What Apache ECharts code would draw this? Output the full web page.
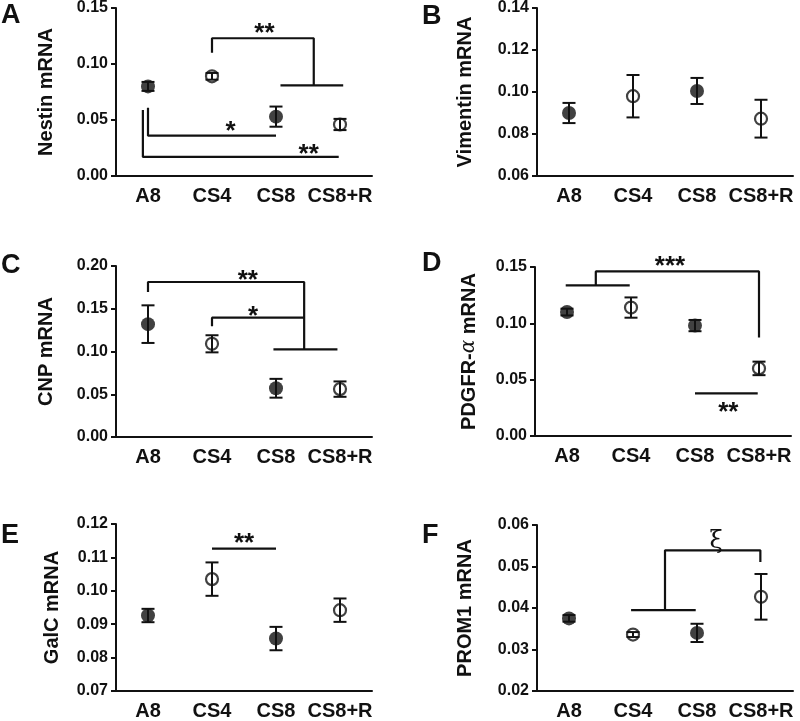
<!DOCTYPE html>
<html>
<head>
<meta charset="utf-8">
<script src="https://cdn.jsdelivr.net/npm/echarts@6/dist/echarts.min.js"></script>
<style>
  html, body { margin: 0; padding: 0; background: #fff; }
  #chart { width: 800px; height: 721px; }
</style>
</head>
<body>
<div id="chart"></div>
<script>
// six qPCR panels, mean ± SEM per culture condition, with significance brackets
var CATEGORIES = ["A8", "CS4", "CS8", "CS8+R"];
var FILLED = [true, false, true, false];

var NESTIN_MEAN = [0.080, 0.089, 0.053, 0.046];
var NESTIN_SEM = [0.004, 0.003, 0.009, 0.005];
var VIMENTIN_MEAN = [0.090, 0.098, 0.1005, 0.0873];
var VIMENTIN_SEM = [0.0048, 0.0101, 0.0062, 0.009];
var CNP_MEAN = [0.132, 0.109, 0.057, 0.056];
var CNP_SEM = [0.022, 0.010, 0.011, 0.009];
var PDGFRA_MEAN = [0.110, 0.114, 0.098, 0.060];
var PDGFRA_SEM = [0.003, 0.009, 0.005, 0.006];
var GALC_MEAN = [0.0926, 0.1035, 0.0857, 0.0942];
var GALC_SEM = [0.002, 0.005, 0.0035, 0.0035];
var PROM1_MEAN = [0.0375, 0.0336, 0.034, 0.0427];
var PROM1_SEM = [0.0008, 0.0006, 0.0022, 0.0055];

// brackets: polylines in (category index, value) space
var NESTIN_BRACKETS = [
  [[1, 0.110], [1, 0.123], [2.59, 0.123], [2.59, 0.081]],
  [[2.07, 0.081], [3.05, 0.081]],
  [[0, 0.061], [0, 0.036], [2.0, 0.036]],
  [[-0.08, 0.059], [-0.08, 0.017], [2.98, 0.017]]
];
var NESTIN_MARKS = [[1.82, 0.133, "**"], [1.29, 0.046, "*"], [2.51, 0.025, "**"]];
var CNP_BRACKETS = [
  [[0, 0.1696], [0, 0.1813], [2.44, 0.1813], [2.44, 0.1026]],
  [[1.96, 0.1026], [2.96, 0.1026]],
  [[1, 0.1295], [1, 0.1396], [2.44, 0.1396]]
];
var CNP_MARKS = [[1.56, 0.191, "**"], [1.64, 0.149, "*"]];
var PDGFRA_BRACKETS = [
  [[-0.02, 0.1337], [0.98, 0.1337]],
  [[0.45, 0.1337], [0.45, 0.1461], [3.0, 0.1461], [3.0, 0.0874]],
  [[2.0, 0.0378], [2.98, 0.0378]]
];
var PDGFRA_MARKS = [[1.61, 0.1565, "***"], [2.52, 0.0266, "**"]];
var GALC_BRACKETS = [[[1, 0.1126], [2, 0.1126]]];
var GALC_MARKS = [[1.5, 0.1162, "**"]];
var PROM1_BRACKETS = [
  [[0.97, 0.0395], [1.98, 0.0395]],
  [[1.5, 0.0395], [1.5, 0.0539], [2.99, 0.0539], [2.99, 0.0511]]
];
var PROM1_MARKS = [[2.3, 0.056, "ξ"]];

var INK = "#111";
var FONT = "'Liberation Sans', Arial, sans-serif";

var PANELS = [
  { letter: "A", name: "Nestin mRNA", mean: NESTIN_MEAN, sem: NESTIN_SEM, min: 0, max: 0.15, step: 0.05,
    grid: { left: 116, top: 6, width: 256, height: 170 }, gap: 60, lines: NESTIN_BRACKETS, marks: NESTIN_MARKS,
    lx: 1, ly: 2 },
  { letter: "B", name: "Vimentin mRNA", mean: VIMENTIN_MEAN, sem: VIMENTIN_SEM, min: 0.06, max: 0.14, step: 0.02,
    grid: { left: 537, top: 7, width: 256, height: 169 }, gap: 62, lines: [], marks: [],
    lx: 422, ly: 3 },
  { letter: "C", name: "CNP mRNA", mean: CNP_MEAN, sem: CNP_SEM, min: 0, max: 0.20, step: 0.05,
    grid: { left: 116, top: 266, width: 256, height: 171 }, gap: 60, lines: CNP_BRACKETS, marks: CNP_MARKS,
    lx: 1, ly: 252 },
  { letter: "D", name: "PDGFR-{a|α} mRNA", mean: PDGFRA_MEAN, sem: PDGFRA_SEM, min: 0, max: 0.15, step: 0.05,
    grid: { left: 535, top: 267, width: 256, height: 169 }, gap: 56, lines: PDGFRA_BRACKETS, marks: PDGFRA_MARKS,
    lx: 422, ly: 250 },
  { letter: "E", name: "GalC mRNA", mean: GALC_MEAN, sem: GALC_SEM, min: 0.07, max: 0.12, step: 0.01,
    grid: { left: 116, top: 524, width: 256, height: 169 }, gap: 54, lines: GALC_BRACKETS, marks: GALC_MARKS,
    lx: 1, ly: 522 },
  { letter: "F", name: "PROM1 mRNA", mean: PROM1_MEAN, sem: PROM1_SEM, min: 0.02, max: 0.06, step: 0.01,
    grid: { left: 537, top: 525, width: 256, height: 169 }, gap: 62, lines: PROM1_BRACKETS, marks: PROM1_MARKS,
    lx: 422, ly: 522 }
];

var grids = [], xAxes = [], yAxes = [], series = [], graphics = [];

PANELS.forEach(function (p, i) {
  grids.push(p.grid);
  // visible category axis + hidden value axis for brackets
  xAxes.push({
    type: "category", gridIndex: i, data: CATEGORIES,
    axisLine: { onZero: false, lineStyle: { color: INK, width: 2 } },
    axisTick: { alignWithLabel: true, length: 5, lineStyle: { color: INK, width: 2 } },
    axisLabel: { color: INK, fontFamily: FONT, fontWeight: "bold", fontSize: 20, margin: 10, interval: 0 }
  });
  xAxes.push({ type: "value", gridIndex: i, min: -0.5, max: 3.5, show: false });
  yAxes.push({
    type: "value", gridIndex: i, min: p.min, max: p.max, interval: p.step,
    name: p.name, nameLocation: "middle", nameGap: p.gap,
    nameTextStyle: {
      color: INK, fontFamily: FONT, fontWeight: "bold", fontSize: 20,
      rich: { a: { fontFamily: "'DejaVu Serif', serif", fontStyle: "italic", fontWeight: "normal", fontSize: 20, color: INK } }
    },
    splitLine: { show: false },
    axisLine: { show: true, onZero: false, lineStyle: { color: INK, width: 2 } },
    axisTick: { show: true, length: 5, lineStyle: { color: INK, width: 2 } },
    axisLabel: {
      color: INK, fontFamily: FONT, fontWeight: "bold", fontSize: 16, margin: 8,
      formatter: function (v) { return v.toFixed(2); }
    }
  });

  var cx = 2 * i, hx = 2 * i + 1;

  series.push({
    type: "custom", xAxisIndex: cx, yAxisIndex: i, z: 2, silent: true,
    data: p.mean.map(function (m, k) { return [k, m - p.sem[k], m + p.sem[k]]; }),
    renderItem: function (params, api) {
      var lo = api.coord([api.value(0), api.value(1)]);
      var hi = api.coord([api.value(0), api.value(2)]);
      var w = 6.5, st = { stroke: INK, lineWidth: 2 };
      return { type: "group", children: [
        { type: "line", shape: { x1: lo[0], y1: lo[1], x2: hi[0], y2: hi[1] }, style: st },
        { type: "line", shape: { x1: lo[0] - w, y1: lo[1], x2: lo[0] + w, y2: lo[1] }, style: st },
        { type: "line", shape: { x1: hi[0] - w, y1: hi[1], x2: hi[0] + w, y2: hi[1] }, style: st }
      ] };
    }
  });

  series.push({
    type: "scatter", xAxisIndex: cx, yAxisIndex: i, z: 3, silent: true,
    symbol: "circle", symbolSize: 14,
    itemStyle: { color: INK },
    data: p.mean.map(function (m, k) { return FILLED[k] ? [k, m] : null; }).filter(Boolean)
  });
  series.push({
    type: "scatter", xAxisIndex: cx, yAxisIndex: i, z: 3, silent: true,
    symbol: "circle", symbolSize: 12,
    itemStyle: { color: "rgba(255,255,255,0)", borderColor: INK, borderWidth: 2.2 },
    data: p.mean.map(function (m, k) { return FILLED[k] ? null : [k, m]; }).filter(Boolean)
  });

  p.lines.forEach(function (pts) {
    series.push({
      type: "line", xAxisIndex: hx, yAxisIndex: i, silent: true, symbol: "none",
      lineStyle: { color: INK, width: 2.2 }, data: pts
    });
  });

  if (p.marks.length) {
    var marks = p.marks;
    series.push({
      type: "custom", xAxisIndex: hx, yAxisIndex: i, silent: true,
      data: marks.map(function (m) { return [m[0], m[1]]; }),
      renderItem: function (params, api) {
        var pt = api.coord([api.value(0), api.value(1)]);
        var txt = marks[params.dataIndex][2];
        var greek = txt === "ξ";
        return {
          type: "text", x: pt[0], y: pt[1] + (greek ? 0 : 7),
          style: {
            text: txt, fill: INK, align: "center", verticalAlign: "middle",
            font: greek ? "normal 24px 'DejaVu Serif', serif" : "bold 26px " + FONT
          }
        };
      }
    });
  }

  graphics.push({
    type: "text", left: p.lx, top: p.ly,
    style: { text: p.letter, fill: INK, font: "bold 27px " + FONT }
  });
});

var chart = echarts.init(document.getElementById("chart"));
chart.setOption({
  animation: false,
  grid: grids,
  xAxis: xAxes,
  yAxis: yAxes,
  series: series,
  graphic: graphics
});
</script>
</body>
</html>
